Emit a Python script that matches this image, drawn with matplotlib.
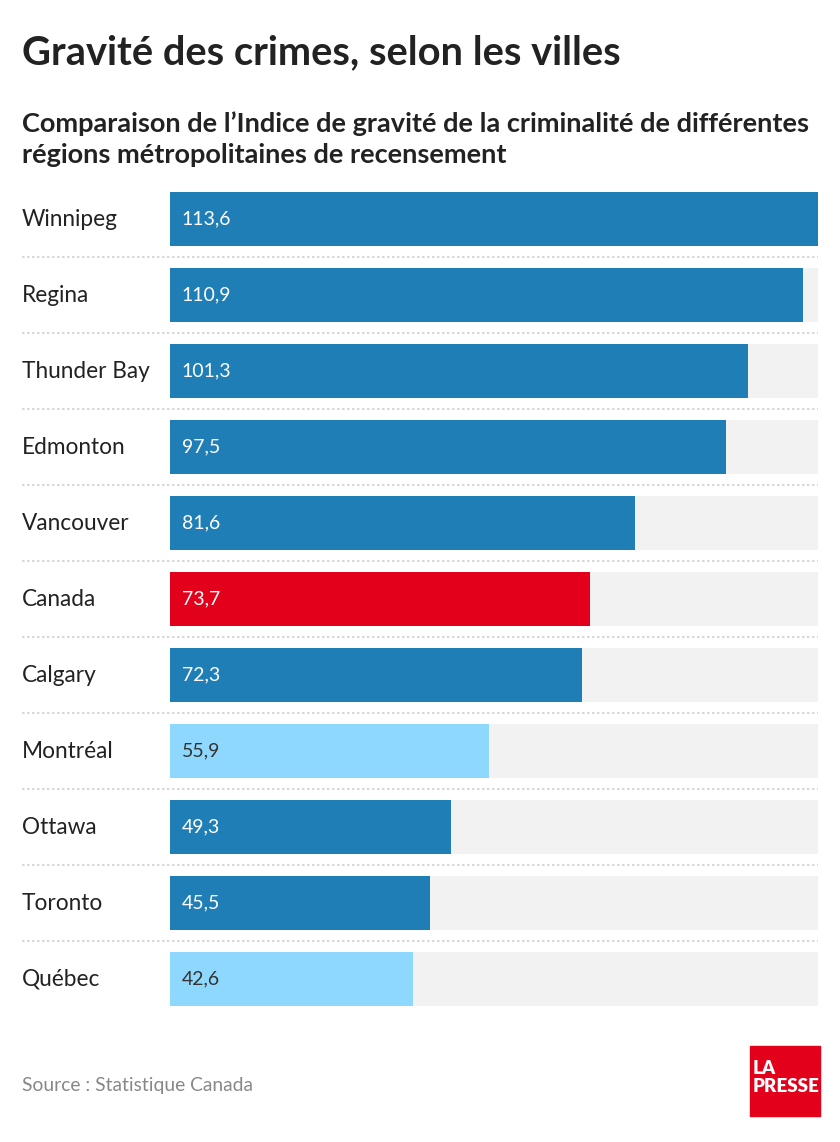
import matplotlib.pyplot as plt
from matplotlib.patches import Rectangle

plt.rcParams['font.family'] = ['Lato', 'DejaVu Sans']

villes = ["Winnipeg", "Regina", "Thunder Bay", "Edmonton", "Vancouver", "Canada",
          "Calgary", "Montréal", "Ottawa", "Toronto", "Québec"]
indices = [113.6, 110.9, 101.3, 97.5, 81.6, 73.7, 72.3, 55.9, 49.3, 45.5, 42.6]
couleurs = ["#1f7eb6", "#1f7eb6", "#1f7eb6", "#1f7eb6", "#1f7eb6", "#e2001a",
            "#1f7eb6", "#8fd8fd", "#1f7eb6", "#1f7eb6", "#8fd8fd"]

W, H = 840, 1142
fig = plt.figure(figsize=(W / 100, H / 100), dpi=100)
fig.patch.set_facecolor("white")

# axes: bars from x=170 to 818, rows from y=181 to 1017
ax = fig.add_axes([170 / W, 1 - 1017 / H, 648 / W, 836 / H])
n = len(villes)
ymax = max(indices)
ax.barh(range(n), [ymax] * n, height=0.71, color="#f2f2f2")
ax.barh(range(n), indices, height=0.71, color=couleurs)
ax.set_xlim(0, ymax)
ax.set_ylim(n - 0.5, -0.5)
ax.axis("off")

for i, (v, val, c) in enumerate(zip(villes, indices, couleurs)):
    txt_col = "#333333" if c == "#8fd8fd" else "white"
    ax.text(ymax * 0.018, i, f"{val:.1f}".replace(".", ","), va="center", ha="left",
            color=txt_col, fontsize=14)
    ax.text(-148 / 648, i, v, transform=ax.get_yaxis_transform(), va="center", ha="left",
            color="#222222", fontsize=16.3)
    if i < n - 1:
        ax.axhline(i + 0.5, xmin=-148 / 648, xmax=1, color="#d9d9d9", lw=1.5,
                   ls=(0, (1.2, 1.2)), clip_on=False)

fig.text(22 / W, 1 - 53 / H, "Gravité des crimes, selon les villes", fontsize=28.7,
         fontweight="bold", color="#222222", va="center", ha="left")
fig.text(22 / W, 1 - 139 / H,
         "Comparaison de l’Indice de gravité de la criminalité de différentes\n"
         "régions métropolitaines de recensement",
         fontsize=19.5, fontweight="bold", color="#222222", va="center", ha="left",
         linespacing=1.35)
fig.text(22 / W, 1 - 1085 / H, "Source : Statistique Canada", fontsize=13.9,
         color="#888888", va="center", ha="left")

# logo
fig.patches.append(Rectangle((750 / W, 1 - 1116 / H), 70 / W, 70 / H,
                             transform=fig.transFigure, color="#e2001a"))
fig.text(753 / W, 1 - 1069 / H, "LA", fontsize=13.5, fontweight="heavy", color="white",
         va="center", ha="left")
fig.text(753 / W, 1 - 1087 / H, "PRESSE", fontsize=13.5, fontweight="heavy", color="white",
         va="center", ha="left")

fig.savefig("out.png", dpi=100)
